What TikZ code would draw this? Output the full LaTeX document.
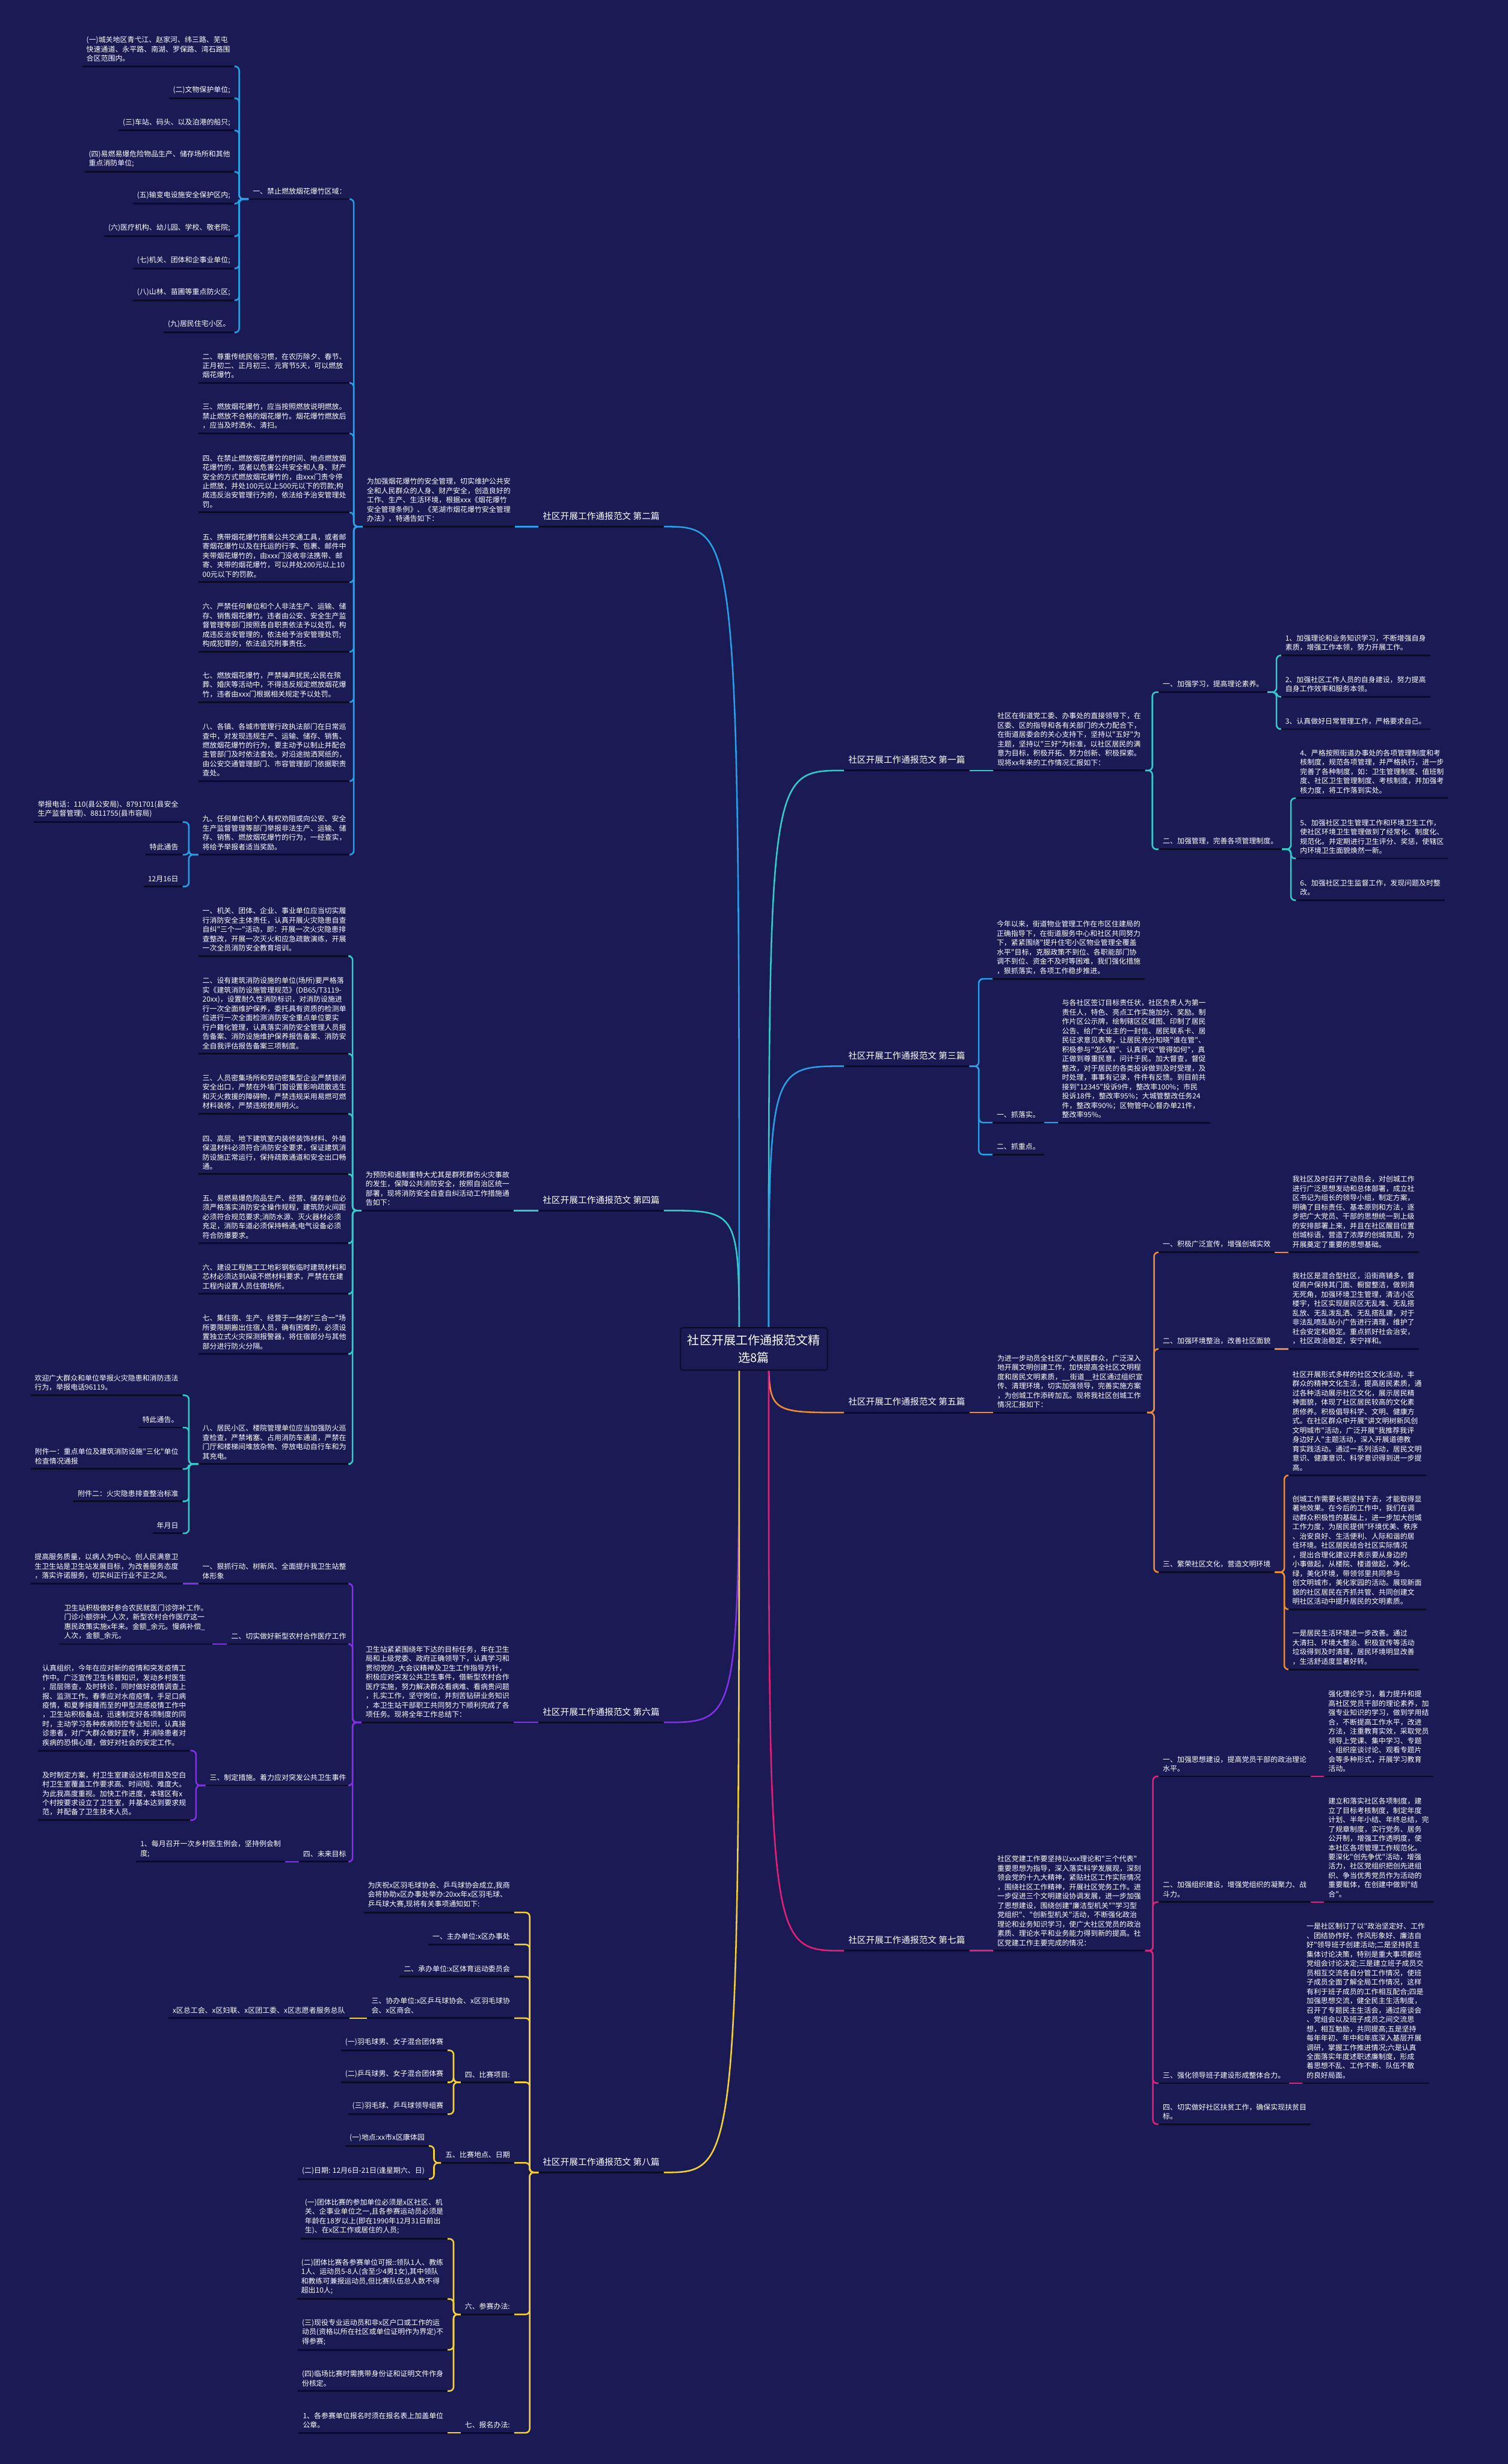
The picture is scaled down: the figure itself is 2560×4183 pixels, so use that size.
\documentclass[tikz,border=0pt]{standalone}
\usepackage{fontspec}
\newfontfamily\cjk{Noto Sans CJK SC}
\usetikzlibrary{positioning}
\definecolor{bgc}{RGB}{26,26,84}
\definecolor{ulc}{RGB}{12,12,40}
\definecolor{skyc}{RGB}{38,160,230}
\definecolor{tealc}{RGB}{50,205,200}
\definecolor{orgc}{RGB}{240,140,50}
\definecolor{purc}{RGB}{130,50,230}
\definecolor{pnkc}{RGB}{230,30,120}
\definecolor{ylwc}{RGB}{245,210,50}

\begin{document}
\begin{tikzpicture}[x=1pt, y=-1pt,
    txt/.style = {text=white, font=\cjk\fontsize{12.2}{15.8}\selectfont, align=left,
      inner xsep=7pt, inner ysep=7.5pt,
      append after command={(\tikzlastnode.south west) edge[uline] (\tikzlastnode.south east)}},
    lft/.style = {txt, anchor=south east},
    rgt/.style = {txt, anchor=south west},
    ttl/.style = {font=\cjk\fontsize{15}{19}\selectfont, inner ysep=11pt},
    uline/.style = {draw=ulc, line width=3pt},
    lk/.style = {line width=2.6pt, rounded corners=7pt},
    hub/.style = {fill=bgc, draw=ulc, line width=2pt, rounded corners=4pt, text=white,
      font=\cjk\fontsize{20.5}{29}\selectfont, align=center, inner sep=12pt}]
\fill[bgc] (0,0) rectangle (2560,4183);
\useasboundingbox (0,0) rectangle (2560,4183);

% ---- 第二篇
\node[lft, ttl] (p2) at (1127,894) {社区开展工作通报范文 第二篇};
\node[lft] (p2t) at (874,894) {为加强烟花爆竹的安全管理，切实维护公共安\\全和人民群众的人身、财产安全，创造良好的\\工作、生产、生活环境，根据xxx《烟花爆竹\\安全管理条例》、《芜湖市烟花爆竹安全管理\\办法》，特通告如下：};
\node[lft] (p2s1) at (595,338) {一、禁止燃放烟花爆竹区域：};
\node[lft] (p2z1) at (398,112.7) {(一)城关地区青弋江、赵家河、纬三路、芜屯\\快速通道、永平路、南湖、罗保路、湾石路围\\合区范围内。};
\node[lft] (p2z2) at (398,166.7) {(二)文物保护单位;};
\node[lft] (p2z3) at (398,221.5) {(三)车站、码头、以及泊港的船只;};
\node[lft] (p2z4) at (398,291.7) {(四)易燃易爆危险物品生产、储存场所和其他\\重点消防单位;};
\node[lft] (p2z5) at (398,345.8) {(五)输变电设施安全保护区内;};
\node[lft] (p2z6) at (398,401) {(六)医疗机构、幼儿园、学校、敬老院;};
\node[lft] (p2z7) at (398,455.7) {(七)机关、团体和企事业单位;};
\node[lft] (p2z8) at (398,509.8) {(八)山林、苗圃等重点防火区;};
\node[lft] (p2z9) at (398,564.5) {(九)居民住宅小区。};
\node[lft] (p2s2) at (595,650) {二、尊重传统民俗习惯，在农历除夕、春节、\\正月初二、正月初三、元宵节5天，可以燃放\\烟花爆竹。};
\node[lft] (p2s3) at (595,736) {三、燃放烟花爆竹，应当按照燃放说明燃放。\\禁止燃放不合格的烟花爆竹。烟花爆竹燃放后\\，应当及时洒水、清扫。};
\node[lft] (p2s4) at (595,870) {四、在禁止燃放烟花爆竹的时间、地点燃放烟\\花爆竹的，或者以危害公共安全和人身、财产\\安全的方式燃放烟花爆竹的，由xxx门责令停\\止燃放，并处100元以上500元以下的罚款;构\\成违反治安管理行为的，依法给予治安管理处\\罚。};
\node[lft] (p2s5) at (595,988.5) {五、携带烟花爆竹搭乘公共交通工具，或者邮\\寄烟花爆竹以及在托运的行李、包裹、邮件中\\夹带烟花爆竹的，由xxx门没收非法携带、邮\\寄、夹带的烟花爆竹，可以并处200元以上10\\00元以下的罚款。};
\node[lft] (p2s6) at (595,1106.5) {六、严禁任何单位和个人非法生产、运输、储\\存、销售烟花爆竹。违者由公安、安全生产监\\督管理等部门按照各自职责依法予以处罚。构\\成违反治安管理的，依法给予治安管理处罚;\\构成犯罪的，依法追究刑事责任。};
\node[lft] (p2s7) at (595,1192) {七、燃放烟花爆竹，严禁噪声扰民;公民在殡\\葬、婚庆等活动中，不得违反规定燃放烟花爆\\竹，违者由xxx门根据相关规定予以处罚。};
\node[lft] (p2s8) at (595,1326) {八、各镇、各城市管理行政执法部门在日常巡\\查中，对发现违规生产、运输、储存、销售、\\燃放烟花爆竹的行为，要主动予以制止并配合\\主管部门及时依法查处。对沿途抛洒冥纸的，\\由公安交通管理部门、市容管理部门依据职责\\查处。};
\node[lft] (p2s9) at (595,1451) {九、任何单位和个人有权劝阻或向公安、安全\\生产监督管理等部门举报非法生产、运输、储\\存、销售、燃放烟花爆竹的行为，一经查实，\\将给予举报者适当奖励。};
\node[lft] (p2n1) at (310,1395.7) {举报电话：110(县公安局)、8791701(县安全\\生产监督管理)、8811755(县市容局)};
\node[lft] (p2n2) at (310,1451) {特此通告};
\node[lft] (p2n3) at (310,1505) {12月16日};

\draw[lk, skyc] (p2.south west) -- (p2t.south east);
\foreach \k in {1,...,9}
  \draw[lk, skyc] (p2t.south west) -- ++(-15,0) |- (p2s\k.south east);
\foreach \k in {1,...,9}
  \draw[lk, skyc] (p2s1.south west) -- ++(-16,0) |- (p2z\k.south east);
\foreach \k in {1,2,3}
  \draw[lk, skyc] (p2s9.south west) -- ++(-16,0) |- (p2n\k.south east);

% ---- 第四篇
\node[lft, ttl] (p4) at (1127,2055) {社区开展工作通报范文 第四篇};
\node[lft] (p4t) at (872,2055) {为预防和遏制重特大尤其是群死群伤火灾事故\\的发生，保障公共消防安全，按照自治区统一\\部署，现将消防安全自查自纠活动工作措施通\\告如下：};
\node[lft] (p4s1) at (595,1623) {一、机关、团体、企业、事业单位应当切实履\\行消防安全主体责任，认真开展火灾隐患自查\\自纠"三个一"活动，即：开展一次火灾隐患排\\查整改，开展一次灭火和应急疏散演练，开展\\一次全员消防安全教育培训。};
\node[lft] (p4s2) at (595,1789) {二、设有建筑消防设施的单位(场所)要严格落\\实《建筑消防设施管理规范》(DB65/T3119-\\20xx)，设置耐久性消防标识，对消防设施进\\行一次全面维护保养，委托具有资质的检测单\\位进行一次全面检测消防安全重点单位要实\\行户籍化管理，认真落实消防安全管理人员报\\告备案、消防设施维护保养报告备案、消防安\\全自我评估报告备案三项制度。};
\node[lft] (p4s3) at (595,1891) {三、人员密集场所和劳动密集型企业严禁锁闭\\安全出口，严禁在外墙门窗设置影响疏散逃生\\和灭火救援的障碍物，严禁违规采用易燃可燃\\材料装修，严禁违规使用明火。};
\node[lft] (p4s4) at (595,1993.3) {四、高层、地下建筑室内装修装饰材料、外墙\\保温材料必须符合消防安全要求，保证建筑消\\防设施正常运行，保持疏散通道和安全出口畅\\通。};
\node[lft] (p4s5) at (595,2110.4) {五、易燃易爆危险品生产、经营、储存单位必\\须严格落实消防安全操作规程，建筑防火间距\\必须符合规范要求;消防水源、灭火器材必须\\充足，消防车道必须保持畅通;电气设备必须\\符合防爆要求。};
\node[lft] (p4s6) at (595,2196.5) {六、建设工程施工工地彩钢板临时建筑材料和\\芯材必须达到A级不燃材料要求，严禁在在建\\工程内设置人员住宿场所。};
\node[lft] (p4s7) at (595,2298.6) {七、集住宿、生产、经营于一体的"三合一"场\\所要限期搬出住宿人员，确有困难的，必须设\\置独立式火灾探测报警器，将住宿部分与其他\\部分进行防火分隔。};
\node[lft] (p4s8) at (595,2485.4) {八、居民小区、楼院管理单位应当加强防火巡\\查检查，严禁堵塞、占用消防车通道，严禁在\\门厅和楼梯间堆放杂物、停放电动自行车和为\\其充电。};
\node[lft] (p4n1) at (310,2368.7) {欢迎广大群众和单位举报火灾隐患和消防违法\\行为，举报电话96119。};
\node[lft] (p4n2) at (310,2423.4) {特此通告。};
\node[lft] (p4n3) at (310,2493.8) {附件一：重点单位及建筑消防设施"三化"单位\\检查情况通报};
\node[lft] (p4n4) at (310,2548.6) {附件二：火灾隐患排查整治标准};
\node[lft] (p4n5) at (310,2603) {年月日};

\draw[lk, tealc] (p4.south west) -- (p4t.south east);
\foreach \k in {1,...,8}
  \draw[lk, tealc] (p4t.south west) -- ++(-15,0) |- (p4s\k.south east);
\foreach \k in {1,...,5}
  \draw[lk, tealc] (p4s8.south west) -- ++(-16,0) |- (p4n\k.south east);

% ---- 第六篇
\node[lft, ttl] (p6) at (1127,2924) {社区开展工作通报范文 第六篇};
\node[lft] (p6t) at (872,2924) {卫生站紧紧围绕年下达的目标任务，年在卫生\\局和上级党委、政府正确领导下，认真学习和\\贯彻党的\_大会议精神及卫生工作指导方针，\\积极应对突发公共卫生事件，借新型农村合作\\医疗实施，努力解决群众看病难、看病贵问题\\，扎实工作，坚守岗位，并刻苦钻研业务知识\\，本卫生站干部职工共同努力下顺利完成了各\\项任务。现将全年工作总结下：};
\node[lft] (p6s1) at (595,2688.5) {一、狠抓行动、树新风、全面提升我卫生站整\\体形象};
\node[lft] (p6a1) at (310,2688.5) {提高服务质量，以病人为中心。创人民满意卫\\生卫生站是卫生站发展目标，为改善服务态度\\，落实许诺服务，切实纠正行业不正之风。};
\node[lft] (p6s2) at (595,2791) {二、切实做好新型农村合作医疗工作};
\node[lft] (p6b1) at (360,2791) {卫生站积极做好参合农民就医门诊弥补工作。\\门诊小额弥补\_人次，新型农村合作医疗这一\\惠民政策实施x年来。金额\_余元。慢病补偿\_\\人次，金额\_余元。};
\node[lft] (p6s3) at (595,3031) {三、制定措施。着力应对突发公共卫生事件};
\node[lft] (p6c1) at (323,2972) {认真组织，今年在应对新的疫情和突发疫情工\\作中。广泛宣传卫生科普知识，发动乡村医生\\，层层筛查，及时转诊，同时做好疫情调查上\\报、监测工作。春季应对水痘疫情，手足口病\\疫情，和夏季接踵而至的甲型流感疫情工作中\\，卫生站积极备战，迅速制定好各项制度的同\\时，主动学习各种疾病防控专业知识，认真接\\诊患者，对广大群众做好宣传，并消除患者对\\疾病的恐惧心理，做好对社会的安定工作。};
\node[lft] (p6c2) at (323,3090) {及时制定方案，村卫生室建设达标项目及空白\\村卫生室覆盖工作要求高、时间短、难度大。\\为此我高度重视。加快工作进度，本辖区有x\\个村按要求设立了卫生室，并基本达到要求规\\范，并配备了卫生技术人员。};
\node[lft] (p6s4) at (595,3160.6) {四、未来目标};
\node[lft] (p6d1) at (484,3160.6) {1、每月召开一次乡村医生例会，坚持例会制\\度;};

\draw[lk, purc] (p6.south west) -- (p6t.south east);
\foreach \k in {1,...,4}
  \draw[lk, purc] (p6t.south west) -- ++(-15,0) |- (p6s\k.south east);
\draw[lk, purc] (p6s1.south west) -- (p6a1.south east);
\draw[lk, purc] (p6s2.south west) -- (p6b1.south east);
\foreach \k in {1,2}
  \draw[lk, purc] (p6s3.south west) -- ++(-16,0) |- (p6c\k.south east);
\draw[lk, purc] (p6s4.south west) -- (p6d1.south east);

% ---- 第八篇
\node[lft, ttl] (p8) at (1127,3688) {社区开展工作通报范文 第八篇};
\node[lft] (p8s0) at (873,3246.7) {为庆祝x区羽毛球协会、乒乓球协会成立,我商\\会将协助x区办事处举办:20xx年x区羽毛球、\\乒乓球大赛,现将有关事项通知如下:};
\node[lft] (p8s1) at (873,3301) {一、主办单位:x区办事处};
\node[lft] (p8s2) at (873,3355.7) {二、承办单位:x区体育运动委员会};
\node[lft] (p8s3) at (873,3426) {三、协办单位:x区乒乓球协会、x区羽毛球协\\会、x区商会、};
\node[lft] (p8c1) at (593,3426) {x区总工会、x区妇联、x区团工委、x区志愿者服务总队};
\node[lft] (p8s4) at (873,3535) {四、比赛项目:};
\node[lft] (p8d1) at (760,3480.7) {(一)羽毛球男、女子混合团体赛};
\node[lft] (p8d2) at (760,3535) {(二)乒乓球男、女子混合团体赛};
\node[lft] (p8d3) at (760,3589) {(三)羽毛球、乒乓球领导组赛};
\node[lft] (p8s5) at (873,3671.7) {五、比赛地点、日期};
\node[lft] (p8e1) at (728,3643) {(一)地点:xx市x区康体园};
\node[lft] (p8e2) at (728,3699) {(二)日期: 12月6日-21日(逢星期六、日)};
\node[lft] (p8s6) at (873,3929) {六、参赛办法:};
\node[lft] (p8f1) at (760,3800.7) {(一)团体比赛的参加单位必须是x区社区、机\\关、企事业单位之一,且各参赛运动员必须是\\年龄在18岁以上(即在1990年12月31日前出\\生)、在x区工作或居住的人员;};
\node[lft] (p8f2) at (760,3902.7) {(二)团体比赛各参赛单位可报::领队1人、教练\\1人、运动员5-8人(含至少4男1女),其中领队\\和教练可兼报运动员,但比赛队伍总人数不得\\超出10人;};
\node[lft] (p8f3) at (760,3989) {(三)现役专业运动员和非x区户口或工作的运\\动员(资格以所在社区或单位证明作为界定)不\\得参赛;};
\node[lft] (p8f4) at (760,4059) {(四)临场比赛时需携带身份证和证明文件作身\\份核定。};
\node[lft] (p8s7) at (873,4130) {七、报名办法:};
\node[lft] (p8g1) at (760,4130) {1、各参赛单位报名时须在报名表上加盖单位\\公章。};

\foreach \k in {0,...,7}
  \draw[lk, ylwc] (p8.south west) -- ++(-15,0) |- (p8s\k.south east);
\draw[lk, ylwc] (p8s3.south west) -- (p8c1.south east);
\foreach \k in {1,2,3}
  \draw[lk, ylwc] (p8s4.south west) -- ++(-12,0) |- (p8d\k.south east);
\foreach \k in {1,2}
  \draw[lk, ylwc] (p8s5.south west) -- ++(-12,0) |- (p8e\k.south east);
\foreach \k in {1,...,4}
  \draw[lk, ylwc] (p8s6.south west) -- ++(-12,0) |- (p8f\k.south east);
\draw[lk, ylwc] (p8s7.south west) -- (p8g1.south east);

% ---- 第一篇
\node[rgt, ttl] (p1) at (1433,1308) {社区开展工作通报范文 第一篇};
\node[rgt] (p1t) at (1686,1308) {社区在街道党工委、办事处的直接领导下，在\\区委、区的指导和各有关部门的大力配合下，\\在街道居委会的关心支持下，坚持以"五好"为\\主题，坚持以"三好"为标准，以社区居民的满\\意为目标，积极开拓、努力创新、积极探索。\\现将xx年来的工作情况汇报如下：};
\node[rgt] (p1s1) at (1967,1175) {一、加强学习，提高理论素养。};
\node[rgt] (p1a1) at (2175,1112.7) {1、加强理论和业务知识学习，不断增强自身\\素质，增强工作本领，努力开展工作。};
\node[rgt] (p1a2) at (2175,1183) {2、加强社区工作人员的自身建设，努力提高\\自身工作效率和服务本领。};
\node[rgt] (p1a3) at (2175,1237.7) {3、认真做好日常管理工作，严格要求自己。};
\node[rgt] (p1s2) at (1967,1441.7) {二、加强管理，完善各项管理制度。};
\node[rgt] (p1b1) at (2200,1355) {4、严格按照街道办事处的各项管理制度和考\\核制度，规范各项管理，并严格执行，进一步\\完善了各种制度，如：卫生管理制度、值班制\\度、社区卫生管理制度、考核制度，并加强考\\核力度，将工作落到实处。};
\node[rgt] (p1b2) at (2200,1457.3) {5、加强社区卫生管理工作和环境卫生工作，\\使社区环境卫生管理做到了经常化、制度化、\\规范化。并定期进行卫生评分、奖惩，使辖区\\内环境卫生面貌焕然一新。};
\node[rgt] (p1b3) at (2200,1528.3) {6、加强社区卫生监督工作，发现问题及时整\\改。};

\draw[lk, tealc] (p1.south east) -- (p1t.south west);
\foreach \k in {1,2}
  \draw[lk, tealc] (p1t.south east) -- ++(12,0) |- (p1s\k.south west);
\foreach \k in {1,2,3}
  \draw[lk, tealc] (p1s1.south east) -- ++(15,0) |- (p1a\k.south west);
\foreach \k in {1,2,3}
  \draw[lk, tealc] (p1s2.south east) -- ++(15,0) |- (p1b\k.south west);

% ---- 第三篇
\node[rgt, ttl] (p3) at (1433,1810) {社区开展工作通报范文 第三篇};
\node[rgt] (p3t) at (1685,1661.7) {今年以来，街道物业管理工作在市区住建局的\\正确指导下，在街道服务中心和社区共同努力\\下，紧紧围绕"提升住宅小区物业管理全覆盖\\水平"目标，克服政策不到位、各职能部门协\\调不到位、资金不及时等困难，我们强化措施\\，狠抓落实，各项工作稳步推进。};
\node[rgt] (p3s1) at (1685,1905.7) {一、抓落实。};
\node[rgt] (p3a1) at (1796,1905.7) {与各社区签订目标责任状，社区负责人为第一\\责任人，特色、亮点工作实施加分、奖励。制\\作片区公示牌，绘制辖区区域图、印制了居民\\公告、给广大业主的一封信、居民联系卡、居\\民征求意见表等，让居民充分知晓"谁在管"、\\积极参与"怎么管"、认真评议"管得如何"，真\\正做到尊重民意，问计于民。加大督查，督促\\整改，对于居民的各类投诉做到及时受理，及\\时处理，事事有记录，件件有反馈。到目前共\\接到"12345"投诉9件，整改率100\%；市民\\投诉18件，整改率95\%；大城管整改任务24\\件，整改率90\%；区物管中心督办单21件，\\整改率95\%。};
\node[rgt] (p3s2) at (1685,1960) {二、抓重点。};

\draw[lk, skyc] (p3.south east) -- ++(16,0) |- (p3t.south west);
\foreach \k in {1,2}
  \draw[lk, skyc] (p3.south east) -- ++(16,0) |- (p3s\k.south west);
\draw[lk, skyc] (p3s1.south east) -- (p3a1.south west);

% ---- 第五篇
\node[rgt, ttl] (p5) at (1433,2398) {社区开展工作通报范文 第五篇};
\node[rgt] (p5t) at (1686,2398) {为进一步动员全社区广大居民群众，广泛深入\\地开展文明创建工作，加快提高全社区文明程\\度和居民文明素质，\_\_街道\_\_社区通过组织宣\\传、清理环境，切实加强领导，完善实施方案\\，为创城工作添砖加瓦。现将我社区创城工作\\情况汇报如下：};
\node[rgt] (p5s1) at (1967,2126) {一、积极广泛宣传，增强创城实效};
\node[rgt] (p5a1) at (2187,2126) {我社区及时召开了动员会，对创城工作\\进行广泛思想发动和总体部署，成立社\\区书记为组长的领导小组，制定方案，\\明确了目标责任、基本原则和方法，逐\\步把广大党员、干部的思想统一到上级\\的安排部署上来，并且在社区醒目位置\\创城标语，营造了浓厚的创城氛围，为\\开展奠定了重要的思想基础。};
\node[rgt] (p5s2) at (1967,2290) {二、加强环境整治，改善社区面貌};
\node[rgt] (p5b1) at (2187,2290) {我社区是混合型社区，沿街商铺多，督\\促商户保持其门面、橱窗整洁，做到清\\无死角，加强环境卫生管理，清洁小区\\楼宇，社区实现居民区无乱堆、无乱搭\\乱放、无乱泼乱洒、无乱搭乱建，对于\\非法乱喷乱贴小广告进行清理，维护了\\社会安定和稳定。重点抓好社会治安，\\，社区政治稳定，安宁祥和。};
\node[rgt] (p5s3) at (1967,2669) {三、繁荣社区文化，营造文明环境};
\node[rgt] (p5c1) at (2187,2504.6) {社区开展形式多样的社区文化活动，丰\\群众的精神文化生活，提高居民素质，通\\过各种活动展示社区文化，展示居民精\\神面貌，体现了社区居民较高的文化素\\质修养。积极倡导科学、文明、健康方\\式。在社区群众中开展"讲文明树新风创\\文明城市"活动，广泛开展"我推荐我评\\身边好人"主题活动，深入开展道德教\\育实践活动。通过一系列活动，居民文明\\意识、健康意识、科学意识得到进一步提\\高。};
\node[rgt] (p5c2) at (2187,2732) {创城工作需要长期坚持下去，才能取得显\\著地效果。在今后的工作中，我们在调\\动群众积极性的基础上，进一步加大创城\\工作力度，为居民提供"环境优美、秩序\\、治安良好、生活便利、人际和谐的居\\住环境。社区居民结合社区实际情况\\，提出合理化建议并表示要从身边的\\小事做起，从楼院、楼道做起，净化、\\绿，美化环境，带领邻里共同参与\\创文明城市，美化家园的活动。展现新面\\貌的社区居民在齐抓共管、共同创建文\\明社区活动中提升居民的文明素质。};
\node[rgt] (p5c3) at (2187,2834) {一是居民生活环境进一步改善。通过\\大清扫、环境大整治、积极宣传等活动\\垃圾得到及时清理，居民环境明显改善\\，生活舒适度显著好转。};

\draw[lk, orgc] (p5.south east) -- (p5t.south west);
\foreach \k in {1,2,3}
  \draw[lk, orgc] (p5t.south east) -- ++(12,0) |- (p5s\k.south west);
\draw[lk, orgc] (p5s1.south east) -- (p5a1.south west);
\draw[lk, orgc] (p5s2.south east) -- (p5b1.south west);
\foreach \k in {1,2,3}
  \draw[lk, orgc] (p5s3.south east) -- ++(16,0) |- (p5c\k.south west);

% ---- 第七篇
\node[rgt, ttl] (p7) at (1433,3311.6) {社区开展工作通报范文 第七篇};
\node[rgt] (p7t) at (1686,3311.6) {社区党建工作要坚持以xxx理论和"三个代表"\\重要思想为指导，深入落实科学发展观，深刻\\领会党的十九大精神，紧贴社区工作实际情况\\，围绕社区工作精神，开展社区党务工作。进\\一步促进三个文明建设协调发展，进一步加强\\了思想建设，围绕创建"廉洁型机关""学习型\\党组织"、"创新型机关"活动，不断强化政治\\理论和业务知识学习，使广大社区党员的政治\\素质、理论水平和业务能力得到新的提高。社\\区党建工作主要完成的情况：};
\node[rgt] (p7s1) at (1967,3015.7) {一、加强思想建设，提高党员干部的政治理论\\水平。};
\node[rgt] (p7a1) at (2248,3015.7) {强化理论学习，着力提升和提\\高社区党员干部的理论素养，加\\强专业知识的学习，做到学用结\\合，不断提高工作水平，改进\\方法，注重教育实效，采取党员\\领导上党课、集中学习、专题\\、组织座谈讨论、观看专题片\\会等多种形式，开展学习教育\\活动。};
\node[rgt] (p7s2) at (1967,3229) {二、加强组织建设，增强党组织的凝聚力、战\\斗力。};
\node[rgt] (p7b1) at (2248,3229) {建立和落实社区各项制度，建\\立了目标考核制度，制定年度\\计划、半年小结、年终总结，完\\了规章制度，实行党务、居务\\公开制，增强工作透明度，使\\本社区各项管理工作规范化。\\要深化"创先争优"活动，增强\\活力，社区党组织把创先进组\\织、争当优秀党员作为活动的\\重要载体，在创建中做到"结\\合"。};
\node[rgt] (p7s3) at (1967,3536.5) {三、强化领导班子建设形成整体合力。};
\node[rgt] (p7c1) at (2211,3536.5) {一是社区制订了以"政治坚定好、工作\\、团结协作好、作风形象好、廉洁自\\好"领导班子创建活动;二是坚持民主\\集体讨论决策，特别是重大事项都经\\党组会讨论决定;三是建立班子成员交\\员相互交流各自分管工作情况，使班\\子成员全面了解全局工作情况，这样\\有利于班子成员的工作相互配合;四是\\加强思想交流，健全民主生活制度，\\召开了专题民主生活会，通过座谈会\\、党组会以及班子成员之间交流思\\想，相互勉励，共同提高;五是坚持\\每年年初、年中和年底深入基层开展\\调研，掌握工作推进情况;六是认真\\全面落实年度述职述廉制度，形成\\着思想不乱、工作不断、队伍不散\\的良好局面。};
\node[rgt] (p7s4) at (1967,3606) {四、切实做好社区扶贫工作，确保实现扶贫目\\标。};

\draw[lk, pnkc] (p7.south east) -- (p7t.south west);
\foreach \k in {1,...,4}
  \draw[lk, pnkc] (p7t.south east) -- ++(13,0) |- (p7s\k.south west);
\draw[lk, pnkc] (p7s1.south east) -- (p7a1.south west);
\draw[lk, pnkc] (p7s2.south east) -- (p7b1.south west);
\draw[lk, pnkc] (p7s3.south east) -- (p7c1.south west);

% ---- centre
\coordinate (cL) at (1255,2290);
\coordinate (cR) at (1305,2290);
\foreach \n/\c in {p2/skyc, p4/tealc, p6/purc, p8/ylwc}
  \draw[line width=2.6pt, \c] (cL) .. controls (cL |- \n.south east) .. (\n.south east);
\foreach \n/\c in {p1/tealc, p3/skyc, p5/orgc, p7/pnkc}
  \draw[line width=2.6pt, \c] (cR) .. controls (cR |- \n.south west) .. (\n.south west);
\node[hub] (ctr) at (1280,2290) {社区开展工作通报范文精\\选8篇};
\end{tikzpicture}
\end{document}
